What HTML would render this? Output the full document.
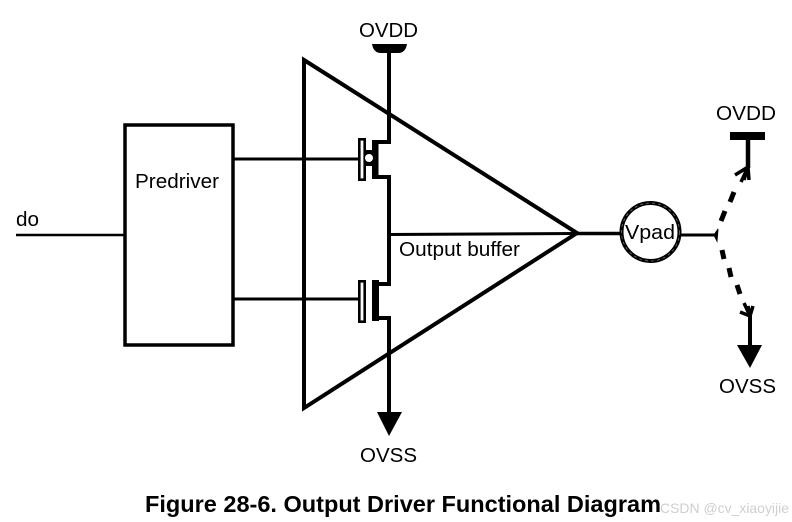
<!DOCTYPE html>
<html>
<head>
<meta charset="utf-8">
<style>
html,body{margin:0;padding:0;background:#fff;width:792px;height:522px;overflow:hidden}
svg{display:block}
text{font-family:"Liberation Sans",Arial,sans-serif;fill:#000}
</style>
</head>
<body>
<svg width="792" height="522" viewBox="0 0 792 522" xmlns="http://www.w3.org/2000/svg">
<rect width="792" height="522" fill="#fff"/>
<!-- do line -->
<line x1="16" y1="235" x2="125" y2="235" stroke="#000" stroke-width="2.5"/>
<!-- predriver -->
<rect x="125" y="125" width="108" height="220" fill="none" stroke="#000" stroke-width="3.5"/>
<!-- triangle -->
<polygon points="304,60 577,233 304,408" fill="none" stroke="#000" stroke-width="4" stroke-linejoin="miter"/>
<!-- gate lines -->
<line x1="233" y1="159" x2="359" y2="159" stroke="#000" stroke-width="3"/>
<line x1="233" y1="299" x2="359" y2="299" stroke="#000" stroke-width="3"/>
<!-- PMOS -->
<rect x="359.300" y="139.300" width="5.400" height="40.400" fill="#fff" stroke="#000" stroke-width="2.600"/>
<path d="M389,44 V142 H375 V177 H389 V235" fill="none" stroke="#000" stroke-width="4"/>
<rect x="372" y="140" width="6.500" height="39" fill="#000"/>
<rect x="364" y="150" width="10" height="16" fill="#000"/>
<circle cx="369" cy="158" r="4" fill="#fff"/>
<!-- NMOS -->
<rect x="359.300" y="281.300" width="5.400" height="40.400" fill="#fff" stroke="#000" stroke-width="2.600"/>
<path d="M389,235 V284 H375 V318 H389 V412" fill="none" stroke="#000" stroke-width="4"/>
<rect x="372" y="280" width="7" height="41" fill="#000"/>
<!-- output buffer line -->
<line x1="389" y1="234.500" x2="577" y2="233.500" stroke="#000" stroke-width="3"/>
<!-- OVDD top cap -->
<path d="M372,44 H407 C406,50 403,53 398,53 H381 C376,53 373,50 372,44 Z" fill="#000"/>
<!-- OVSS arrow -->
<polygon points="377,412 402,412 389,436" fill="#000"/>
<!-- pad connection -->
<line x1="577" y1="233.500" x2="621" y2="233.500" stroke="#000" stroke-width="3.500"/>
<circle cx="650.500" cy="232" r="29" fill="#fff" stroke="#000" stroke-width="4"/>
<circle cx="650.500" cy="232" r="29" fill="none" stroke="#999" stroke-width="0.600" stroke-dasharray="3 3"/>
<line x1="680" y1="235" x2="716" y2="235" stroke="#000" stroke-width="3"/>
<path d="M714,235 L718,229 L717,241 Z" fill="#000" stroke="#000" stroke-width="1"/>
<!-- right OVDD -->
<rect x="730" y="132" width="35" height="8" fill="#000"/>
<line x1="748" y1="140" x2="748" y2="168" stroke="#000" stroke-width="4.500"/>
<path d="M748,167 L735,175 M748,167 L741,182 M748,167 L749,180 M748,167 L744,180" stroke="#000" stroke-width="3.500" fill="none"/>
<line x1="734" y1="192" x2="730" y2="202" stroke="#000" stroke-width="5"/>
<line x1="725" y1="211" x2="721" y2="221" stroke="#000" stroke-width="5"/>
<!-- right OVSS -->
<line x1="722" y1="250" x2="724" y2="259" stroke="#000" stroke-width="5"/>
<line x1="729" y1="268" x2="731" y2="277" stroke="#000" stroke-width="5"/>
<line x1="737" y1="285" x2="740" y2="294" stroke="#000" stroke-width="5"/>
<path d="M750,316 L740,312 M750,316 L744,303 M750,316 L753,306 M750,316 L748,306" stroke="#000" stroke-width="3.500" fill="none"/>
<line x1="750" y1="313" x2="750" y2="345" stroke="#000" stroke-width="4"/>
<polygon points="737,345 762,345 750,368" fill="#000"/>
<!-- labels -->
<text x="359" y="37" font-size="20" textLength="59" lengthAdjust="spacingAndGlyphs">OVDD</text>
<text x="360" y="462" font-size="20" textLength="57" lengthAdjust="spacingAndGlyphs">OVSS</text>
<text x="16" y="226" font-size="20" textLength="23" lengthAdjust="spacingAndGlyphs">do</text>
<text x="135" y="188" font-size="20" textLength="84" lengthAdjust="spacingAndGlyphs">Predriver</text>
<text x="399" y="256" font-size="20" textLength="121" lengthAdjust="spacingAndGlyphs">Output buffer</text>
<text x="625" y="239" font-size="20" textLength="50" lengthAdjust="spacingAndGlyphs">Vpad</text>
<text x="716" y="120" font-size="20" textLength="60" lengthAdjust="spacingAndGlyphs">OVDD</text>
<text x="719" y="393" font-size="20" textLength="57" lengthAdjust="spacingAndGlyphs">OVSS</text>
<text x="145" y="512" font-size="23" font-weight="bold" textLength="516" lengthAdjust="spacingAndGlyphs">Figure 28-6. Output Driver Functional Diagram</text>
<text x="660" y="513" font-size="14" style="fill:#cfcfcf" textLength="129" lengthAdjust="spacingAndGlyphs">CSDN @cv_xiaoyijie</text>
</svg>
</body>
</html>
